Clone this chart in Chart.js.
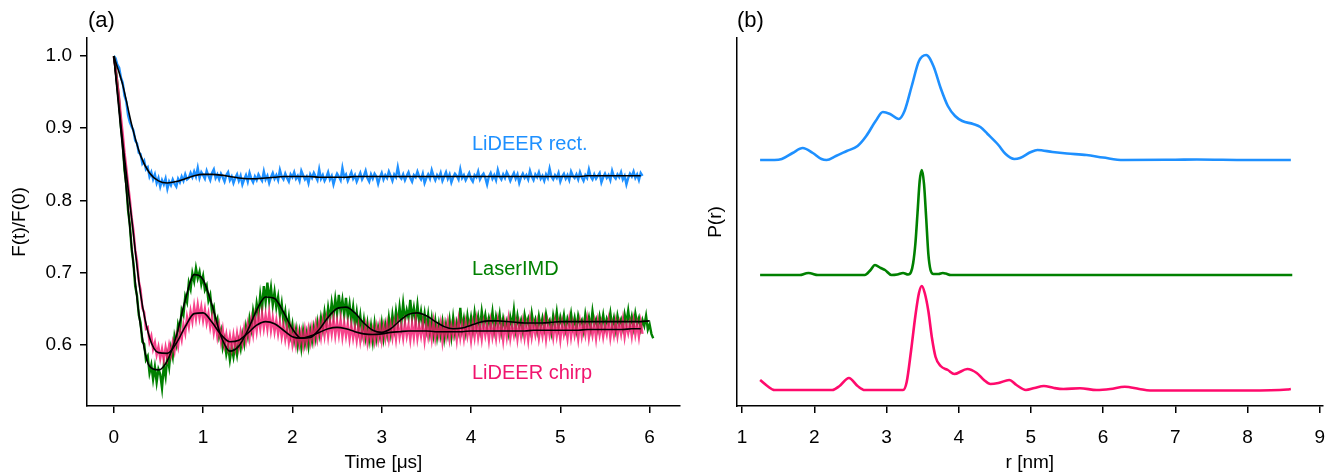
<!DOCTYPE html>
<html>
<head>
<meta charset="utf-8">
<script src="https://cdn.jsdelivr.net/npm/chart.js@4.4.1/dist/chart.umd.min.js"></script>
<style>
body { margin: 0; background: #fff; width: 1331px; height: 472px; position: relative; overflow: hidden; font-family: "Liberation Sans", Arial, sans-serif; }
canvas { position: absolute; top: 0; }
#traceChart { left: 0; }
#distChart { left: 690px; }
.lbl { position: absolute; font-size: 20px; line-height: 1; white-space: nowrap; }
.panel { font-size: 22px; }
</style>
</head>
<body>
<canvas id="traceChart" width="690" height="472"></canvas>
<canvas id="distChart" width="648" height="472"></canvas>
<div class="lbl panel" style="left:88px; top:9px; color:#000">(a)</div>
<div class="lbl panel" style="left:737px; top:9px; color:#000">(b)</div>
<div class="lbl" style="left:472px; top:133px; color:#1e90ff">LiDEER rect.</div>
<div class="lbl" style="left:472px; top:258px; color:#008000">LaserIMD</div>
<div class="lbl" style="left:472px; top:362px; color:#f0146e">LiDEER chirp</div>
<script>
// time traces, sampled every traceStep µs starting at 0
const traceStep = 0.02;
const fitStep = 0.1;

const rectTrace = [
    1.000, 0.997, 0.988, 0.984, 0.970, 0.963, 0.945, 0.937, 0.918, 0.908,
    0.902, 0.897, 0.883, 0.879, 0.866, 0.864, 0.851, 0.855, 0.843, 0.846,
    0.833, 0.839, 0.829, 0.836, 0.824, 0.831, 0.819, 0.828, 0.822, 0.830,
    0.816, 0.826, 0.821, 0.829, 0.823, 0.819, 0.830, 0.825, 0.833, 0.827,
    0.836, 0.829, 0.831, 0.838, 0.832, 0.840, 0.833, 0.845, 0.831, 0.839,
    0.835,
    0.830, 0.841, 0.834, 0.828, 0.838, 0.843, 0.831, 0.836, 0.829, 0.837,
    0.832, 0.826, 0.835, 0.839, 0.828, 0.833, 0.824, 0.831, 0.836, 0.827,
    0.834, 0.822, 0.829, 0.835, 0.826, 0.838, 0.830, 0.825, 0.833, 0.828,
    0.836, 0.831, 0.827, 0.840, 0.829, 0.834, 0.824, 0.832, 0.838, 0.830,
    0.835, 0.828, 0.842, 0.833, 0.829, 0.837, 0.831, 0.826, 0.836, 0.832,
    0.839, 0.830, 0.834, 0.827, 0.841, 0.835, 0.829, 0.833, 0.824, 0.836,
    0.831, 0.838, 0.833, 0.828, 0.843, 0.830, 0.835, 0.827, 0.832, 0.839,
    0.829, 0.834, 0.822, 0.831, 0.837, 0.833, 0.828, 0.845, 0.832, 0.836,
    0.827, 0.833, 0.839, 0.830, 0.835, 0.826, 0.832, 0.838, 0.829, 0.834,
    0.841, 0.831, 0.826, 0.836, 0.830, 0.837, 0.833, 0.823, 0.832, 0.838,
    0.829, 0.835, 0.831, 0.840, 0.834, 0.827, 0.836, 0.832, 0.846, 0.833,
    0.830, 0.836, 0.828, 0.834, 0.839, 0.831, 0.826, 0.835, 0.832, 0.840,
    0.833, 0.829, 0.837, 0.824, 0.831, 0.836, 0.830, 0.842, 0.834, 0.828,
    0.835, 0.831, 0.838, 0.827, 0.833, 0.839, 0.830, 0.836, 0.825, 0.832,
    0.837, 0.834, 0.829, 0.843, 0.831, 0.835, 0.828, 0.833, 0.838, 0.830,
    0.826, 0.835, 0.832, 0.840, 0.829, 0.834, 0.837, 0.831, 0.822, 0.833,
    0.838, 0.830, 0.835, 0.828, 0.842, 0.833, 0.829, 0.836, 0.831, 0.839,
    0.834, 0.827, 0.833, 0.838, 0.830, 0.836, 0.824, 0.832, 0.837, 0.831,
    0.835, 0.829, 0.841, 0.833, 0.828, 0.836, 0.832, 0.839, 0.830, 0.834,
    0.827, 0.836, 0.831, 0.844, 0.833, 0.829, 0.835, 0.831, 0.838, 0.826,
    0.833, 0.837, 0.830, 0.835, 0.828, 0.840, 0.834, 0.831, 0.836, 0.829,
    0.839, 0.832, 0.827, 0.835, 0.831, 0.843, 0.833, 0.829, 0.836, 0.830,
    0.834, 0.838, 0.825, 0.832, 0.837, 0.831, 0.835, 0.828, 0.841, 0.833,
    0.830, 0.836, 0.832, 0.839, 0.829, 0.834, 0.822, 0.831, 0.837, 0.833,
    0.840, 0.831, 0.836, 0.828, 0.838, 0.834
];

const imdTrace = [
    1.000, 0.985, 0.962, 0.938, 0.902, 0.880, 0.842, 0.822, 0.786, 0.766,
    0.732, 0.713, 0.681, 0.668, 0.641, 0.630, 0.604, 0.601, 0.579, 0.584,
    0.561, 0.572, 0.552, 0.569, 0.548, 0.566, 0.559, 0.540, 0.571, 0.556,
    0.584, 0.569, 0.595, 0.583, 0.612, 0.601, 0.628, 0.619, 0.648, 0.641,
    0.667, 0.659, 0.686, 0.677, 0.699, 0.688, 0.706, 0.692, 0.701, 0.684,
    0.695, 0.676, 0.682, 0.661, 0.669, 0.645, 0.652, 0.629, 0.636, 0.611,
    0.620, 0.596, 0.607, 0.587, 0.599, 0.579, 0.596, 0.583, 0.601, 0.586,
    0.605, 0.594, 0.614, 0.601, 0.625, 0.612, 0.636, 0.622, 0.647, 0.633,
    0.657, 0.642, 0.669, 0.650, 0.681, 0.659, 0.686, 0.661, 0.679, 0.655,
    0.673, 0.652, 0.666, 0.641, 0.657, 0.632, 0.646, 0.621, 0.638, 0.614,
    0.628, 0.606, 0.621, 0.599, 0.617, 0.596, 0.619, 0.601, 0.616, 0.598,
    0.620, 0.605, 0.624, 0.609, 0.631, 0.615, 0.637, 0.622, 0.645, 0.628,
    0.651, 0.634, 0.658, 0.640, 0.663, 0.643, 0.669, 0.645, 0.662, 0.641,
    0.665, 0.639, 0.656, 0.633, 0.652, 0.627, 0.645, 0.622, 0.640, 0.616,
    0.634, 0.611, 0.629, 0.607, 0.626, 0.605, 0.629, 0.608, 0.624, 0.611,
    0.630, 0.609, 0.628, 0.614, 0.637, 0.617, 0.641, 0.623, 0.646, 0.628,
    0.652, 0.631, 0.657, 0.634, 0.648, 0.637, 0.662, 0.636, 0.651, 0.633,
    0.655, 0.631, 0.646, 0.627, 0.643, 0.622, 0.641, 0.617, 0.636, 0.614,
    0.633, 0.611, 0.629, 0.613, 0.631, 0.609, 0.628, 0.614, 0.634, 0.612,
    0.637, 0.616, 0.631, 0.619, 0.651, 0.622, 0.636, 0.618, 0.640, 0.623,
    0.638, 0.621, 0.644, 0.625, 0.639, 0.622, 0.646, 0.628, 0.641, 0.624,
    0.637, 0.626, 0.645, 0.621, 0.639, 0.627, 0.642, 0.619, 0.636, 0.624,
    0.633, 0.617, 0.638, 0.626, 0.648, 0.622, 0.640, 0.625, 0.634, 0.619,
    0.641, 0.628, 0.636, 0.621, 0.643, 0.627, 0.635, 0.620, 0.639, 0.625,
    0.637, 0.623, 0.642, 0.629, 0.634, 0.618, 0.640, 0.626, 0.645, 0.624,
    0.638, 0.627, 0.641, 0.622, 0.636, 0.628, 0.643, 0.625, 0.637, 0.621,
    0.640, 0.629, 0.634, 0.620, 0.642, 0.627, 0.638, 0.623, 0.646, 0.628,
    0.635, 0.622, 0.639, 0.626, 0.641, 0.624, 0.636, 0.629, 0.644, 0.625,
    0.637, 0.621, 0.640, 0.628, 0.635, 0.623, 0.642, 0.630, 0.647, 0.627,
    0.639, 0.624, 0.643, 0.629, 0.637, 0.622, 0.634, 0.626, 0.640, 0.621,
    0.628, 0.615, 0.609
];

const chirpTrace = [
    1.000, 0.982, 0.962, 0.942, 0.915, 0.892, 0.866, 0.845, 0.822, 0.801,
    0.776, 0.758, 0.731, 0.716, 0.688, 0.676, 0.651, 0.645, 0.622, 0.624,
    0.604, 0.612, 0.594, 0.603, 0.586, 0.597, 0.581, 0.594, 0.579, 0.596,
    0.582, 0.599, 0.586, 0.603, 0.591, 0.611, 0.598, 0.619, 0.607, 0.628,
    0.616, 0.638, 0.625, 0.646, 0.632, 0.653, 0.636, 0.655, 0.637, 0.652,
    0.634, 0.649, 0.630, 0.643, 0.624, 0.638, 0.617, 0.632, 0.611, 0.626,
    0.605, 0.621, 0.600, 0.614, 0.597, 0.612, 0.595, 0.613, 0.596, 0.615,
    0.598, 0.617, 0.602, 0.622, 0.606, 0.627, 0.610, 0.633, 0.615, 0.638,
    0.619, 0.640, 0.622, 0.643, 0.623, 0.641, 0.622, 0.644, 0.620, 0.637,
    0.618, 0.634, 0.615, 0.631, 0.611, 0.627, 0.608, 0.624, 0.604, 0.621,
    0.601, 0.619, 0.600, 0.618, 0.601, 0.617, 0.599, 0.620, 0.602, 0.621,
    0.604, 0.623, 0.606, 0.627, 0.609, 0.629, 0.611, 0.632, 0.613, 0.634,
    0.612, 0.633, 0.615, 0.636, 0.613, 0.632, 0.614, 0.635, 0.611, 0.630,
    0.612, 0.629, 0.608, 0.627, 0.609, 0.624, 0.606, 0.625, 0.605, 0.622,
    0.607, 0.626, 0.604, 0.623, 0.606, 0.621, 0.605, 0.624, 0.607, 0.626,
    0.606, 0.625, 0.609, 0.628, 0.608, 0.627, 0.610, 0.629, 0.608, 0.631,
    0.611, 0.626, 0.609, 0.630, 0.612, 0.627, 0.607, 0.629, 0.610, 0.633,
    0.609, 0.626, 0.612, 0.630, 0.606, 0.627, 0.611, 0.628, 0.608, 0.631,
    0.609, 0.625, 0.612, 0.629, 0.605, 0.627, 0.611, 0.630, 0.608, 0.626,
    0.613, 0.628, 0.607, 0.632, 0.610, 0.627, 0.609, 0.630, 0.612, 0.626,
    0.606, 0.629, 0.611, 0.633, 0.610, 0.627, 0.608, 0.630, 0.613, 0.628,
    0.607, 0.631, 0.611, 0.626, 0.609, 0.632, 0.612, 0.627, 0.606, 0.629,
    0.611, 0.634, 0.609, 0.626, 0.613, 0.630, 0.608, 0.628, 0.612, 0.631,
    0.610, 0.627, 0.607, 0.633, 0.611, 0.628, 0.614, 0.630, 0.609, 0.626,
    0.612, 0.632, 0.608, 0.629, 0.613, 0.627, 0.610, 0.631, 0.612, 0.628,
    0.607, 0.630, 0.614, 0.626, 0.609, 0.633, 0.611, 0.629, 0.613, 0.627,
    0.608, 0.631, 0.612, 0.628, 0.614, 0.634, 0.610, 0.627, 0.613, 0.630,
    0.609, 0.632, 0.614, 0.629, 0.611, 0.627, 0.615, 0.633, 0.610, 0.628,
    0.613, 0.631, 0.612, 0.629, 0.615, 0.634, 0.611, 0.628, 0.616, 0.630,
    0.612, 0.633, 0.614, 0.629, 0.611, 0.631, 0.615
];

// fits, sampled every fitStep µs starting at 0
const rectFit = [
    1.000, 0.960, 0.905, 0.862, 0.838, 0.827, 0.824, 0.826, 0.830, 0.834,
    0.836, 0.836, 0.835, 0.833, 0.831, 0.830, 0.830, 0.831, 0.832, 0.833,
    0.833, 0.833, 0.833, 0.832, 0.832, 0.832, 0.832, 0.833, 0.833, 0.833,
    0.833, 0.833, 0.833, 0.833, 0.833, 0.833, 0.833, 0.833, 0.833, 0.833,
    0.833, 0.833, 0.833, 0.833, 0.833, 0.833, 0.833, 0.833, 0.833, 0.833,
    0.833, 0.833, 0.833, 0.834, 0.834, 0.834, 0.834, 0.834, 0.834, 0.834
];
const imdFit = [
    1.000, 0.870, 0.735, 0.625, 0.570, 0.565, 0.578, 0.612, 0.662, 0.697,
    0.690, 0.655, 0.612, 0.591, 0.598, 0.620, 0.648, 0.666, 0.664, 0.645,
    0.622, 0.609, 0.610, 0.621, 0.638, 0.650, 0.652, 0.644, 0.630, 0.620,
    0.617, 0.622, 0.633, 0.642, 0.644, 0.640, 0.632, 0.625, 0.622, 0.623,
    0.627, 0.631, 0.633, 0.633, 0.632, 0.631, 0.630, 0.630, 0.630, 0.631,
    0.632, 0.632, 0.632, 0.632, 0.632, 0.632, 0.632, 0.632, 0.632, 0.632, 0.633
];
const chirpFit = [
    1.000, 0.880, 0.775, 0.670, 0.610, 0.589, 0.588, 0.602, 0.625, 0.643,
    0.644, 0.631, 0.614, 0.604, 0.606, 0.616, 0.627, 0.632, 0.629, 0.620,
    0.611, 0.609, 0.612, 0.617, 0.622, 0.624, 0.622, 0.618, 0.615, 0.614,
    0.615, 0.617, 0.618, 0.619, 0.619, 0.619, 0.618, 0.618, 0.618, 0.618,
    0.619, 0.619, 0.619, 0.619, 0.619, 0.619, 0.619, 0.620, 0.620, 0.620,
    0.620, 0.620, 0.620, 0.621, 0.621, 0.621, 0.621, 0.621, 0.622, 0.622
];

const timeTicks = [0, 1, 2, 3, 4, 5, 6];
const fTicks = [0.6, 0.7, 0.8, 0.9, 1.0];
const rTicks = [1, 2, 3, 4, 5, 6, 7, 8, 9];

// distance distributions (arbitrary units, already stacked)
const rRect = [1.25, 1.45, 1.55, 1.70, 1.84, 1.98, 2.10, 2.17, 2.30, 2.45, 2.60, 2.72, 2.85, 2.95, 3.05, 3.17,
    3.25, 3.35, 3.45, 3.55, 3.65, 3.75, 3.85, 3.95, 4.05, 4.20, 4.30, 4.40, 4.55, 4.65, 4.77, 4.85,
    5.00, 5.09, 5.30, 5.50, 5.77, 6.00, 6.28, 7.00, 7.30, 8.00, 8.60];
const pRect = [246, 246, 247, 253, 258, 253, 247, 246, 250, 255, 260, 270, 285, 294, 292, 287,
    295, 320, 345, 351, 340, 318, 300, 290, 285, 282, 279, 272, 261, 252, 247, 248,
    254, 256, 254, 252.5, 251, 248.5, 246, 246.3, 246.5, 246, 246];

const rImd = [1.25, 1.80, 1.88, 1.92, 1.96, 2.05, 2.70, 2.78, 2.84, 2.92, 2.98, 3.07, 3.15, 3.23, 3.30,
    3.34, 3.37, 3.40, 3.43, 3.46, 3.49, 3.52, 3.55, 3.58, 3.61, 3.65, 3.72, 3.78, 3.82, 3.89, 4.20, 8.62];
const pImd = [131, 131, 132.5, 133, 132.5, 131, 131, 136, 141, 138, 136, 131, 131.5, 133, 131.5,
    134, 143, 162, 193, 225, 236, 222, 188, 152, 136, 132, 132, 133, 132.5, 131, 131, 131];

const rChirp = [1.25, 1.35, 1.45, 2.25, 2.35, 2.48, 2.60, 2.70, 3.23, 3.28, 3.34, 3.40, 3.45, 3.49, 3.53,
    3.58, 3.63, 3.68, 3.75, 3.85, 3.94, 4.12, 4.25, 4.35, 4.44, 4.55, 4.70, 4.80, 4.93, 5.05, 5.18,
    5.32, 5.45, 5.68, 5.91, 6.10, 6.30, 6.50, 6.65, 7.00, 8.00, 8.55, 8.60];
const pChirp = [26, 20, 16, 16, 20, 28, 20, 16, 16, 24, 55, 90, 113, 120, 113,
    95, 68, 49, 40, 36, 32, 37, 33, 26, 22, 23, 26, 21, 16, 18, 20,
    18, 17, 17.7, 16, 17, 19.3, 17, 15.5, 15.5, 15.5, 16.5, 17];

const BLUE = "#1e90ff";
const GREEN = "#008000";
const PINK = "#ff0a6c";

Chart.defaults.font.family = '"Liberation Sans", Arial, sans-serif';
Chart.defaults.color = "#000";

function series(step, values) {
    return values.map(function (v, i) {
        return { x: +(i * step).toFixed(2), y: v };
    });
}
function pairs(xs, ys) {
    return xs.map(function (x, i) {
        return { x: x, y: ys[i] };
    });
}

function bottomAxis(min, max, ticks, title) {
    return {
        type: "linear",
        min: min,
        max: max,
        afterFit: function (s) { s.height = 66; },
        afterBuildTicks: function (s) { s.ticks = ticks.map(function (v) { return { value: v }; }); },
        grid: { drawOnChartArea: false, drawTicks: true, tickLength: 7, color: "#000", lineWidth: 1.5 },
        border: { display: true, color: "#000", width: 1.5 },
        ticks: { color: "#000", font: { size: 19 }, padding: 13, maxRotation: 0, callback: function (v) { return String(v); } },
        title: { display: true, text: title, color: "#000", font: { size: 19, lineHeight: 1.0 }, padding: { top: 0, bottom: 0 } },
    };
}

// (a) time traces
new Chart(document.getElementById("traceChart").getContext("2d"), {
    type: "line",
    data: {
        datasets: [
            { data: series(fitStep, rectFit), borderColor: "#000", borderWidth: 1.6, cubicInterpolationMode: "monotone", order: 1 },
            { data: series(fitStep, imdFit), borderColor: "#000", borderWidth: 1.6, cubicInterpolationMode: "monotone", order: 1 },
            { data: series(fitStep, chirpFit), borderColor: "#000", borderWidth: 1.6, cubicInterpolationMode: "monotone", order: 1 },
            { data: series(traceStep, chirpTrace), borderColor: "rgba(245,20,110,0.8)", borderWidth: 2.4, order: 2 },
            { data: series(traceStep, imdTrace), borderColor: GREEN, borderWidth: 2.4, order: 3 },
            { data: series(traceStep, rectTrace), borderColor: BLUE, borderWidth: 2.4, order: 4 },
        ],
    },
    options: {
        responsive: false,
        animation: false,
        elements: { point: { radius: 0 } },
        layout: { padding: { top: 38, right: 10, left: 0, bottom: 0 } },
        plugins: { legend: { display: false }, tooltip: { enabled: false } },
        scales: {
            x: bottomAxis(-0.30, 6.34, timeTicks, "Time [μs]"),
            y: {
                type: "linear",
                min: 0.515,
                max: 1.025,
                afterFit: function (s) { s.width = 87; },
                afterBuildTicks: function (s) { s.ticks = fTicks.map(function (v) { return { value: v }; }); },
                grid: { drawOnChartArea: false, drawTicks: true, tickLength: 7, color: "#000", lineWidth: 1.5 },
                border: { display: true, color: "#000", width: 1.5 },
                ticks: { color: "#000", font: { size: 19 }, padding: 8, callback: function (v) { return v.toFixed(1); } },
                title: { display: true, text: "F(t)/F(0)", color: "#000", font: { size: 19 }, padding: { top: 8, bottom: 0 } },
            },
        },
    },
});

// (b) distance distributions
new Chart(document.getElementById("distChart").getContext("2d"), {
    type: "line",
    data: {
        datasets: [
            { data: pairs(rRect, pRect), borderColor: BLUE, borderWidth: 2.6, cubicInterpolationMode: "monotone" },
            { data: pairs(rImd, pImd), borderColor: GREEN, borderWidth: 2.6, cubicInterpolationMode: "monotone" },
            { data: pairs(rChirp, pChirp), borderColor: PINK, borderWidth: 2.6, cubicInterpolationMode: "monotone" },
        ],
    },
    options: {
        responsive: false,
        animation: false,
        elements: { point: { radius: 0 } },
        layout: { padding: { top: 38, right: 0, left: 0, bottom: 0 } },
        plugins: { legend: { display: false }, tooltip: { enabled: false } },
        scales: {
            x: bottomAxis(0.93, 9.04, rTicks, "r [nm]"),
            y: {
                type: "linear",
                min: 0,
                max: 368,
                afterFit: function (s) { s.width = 47; },
                grid: { display: true, drawOnChartArea: false, drawTicks: false, tickLength: 0 },
                border: { display: true, color: "#000", width: 1.5 },
                ticks: { display: false },
                title: { display: true, text: "P(r)", color: "#000", font: { size: 19 }, padding: { top: 14, bottom: 0 } },
            },
        },
    },
});
</script>
</body>
</html>
